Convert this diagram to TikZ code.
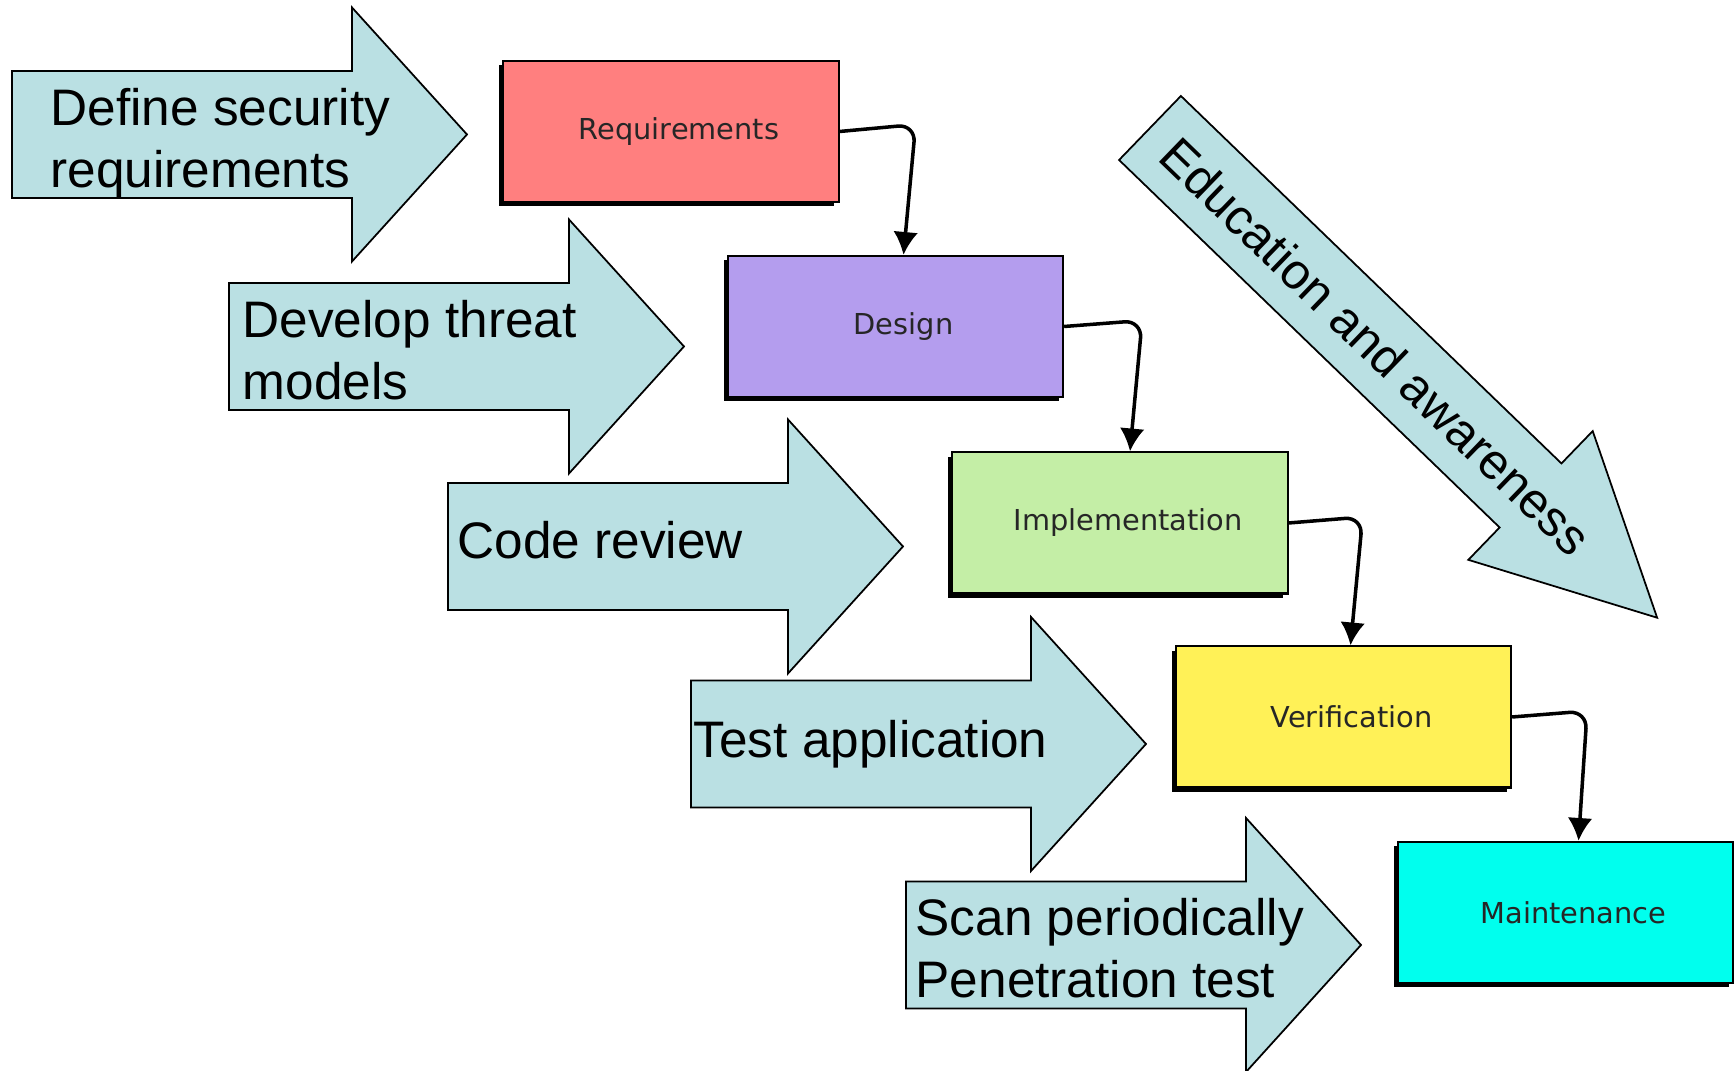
\documentclass[tikz,border=0pt]{standalone}
\usepackage{fontspec}
\setmainfont{Liberation Sans}
\newfontfamily\boxfont{DejaVu Sans}
\usetikzlibrary{arrows.meta,shadows}

\definecolor{arrowblue}{RGB}{186,224,227}
\definecolor{reqred}{RGB}{255,127,127}
\definecolor{dsnpurple}{RGB}{180,157,238}
\definecolor{implgreen}{RGB}{196,238,166}
\definecolor{verifyellow}{RGB}{255,241,87}
\definecolor{maintcyan}{RGB}{0,255,238}

\tikzset{
    phase/.style={draw=black, line width=0.6pt, minimum width=3.35cm, minimum height=1.41cm,
                  inner sep=0pt, font=\boxfont\fontsize{8.2}{10}\selectfont, text=black!85,
                  execute at begin node={\hspace*{0.16cm}},
                  drop shadow={shadow xshift=-1.2pt, shadow yshift=-1.2pt, fill=black, opacity=1}},
    bigarrow/.style={draw=black, line width=0.5pt, fill=arrowblue},
    arrowtext/.style={inner sep=0pt, align=left, font=\fontsize{14.6}{17.9}\selectfont},
    flow/.style={line width=1pt, rounded corners=5pt, -{Latex[length=6.5pt,width=7pt]}}
}

\begin{document}
\begin{tikzpicture}[x=0.01cm, y=-0.01cm]
                \useasboundingbox (0,0) rectangle (1735,1071);
                \fill[white] (0,0) rectangle (1735,1071);

                % activities
                \foreach \lx/\cy in {12/134.5, 229/346.5, 448/546.5, 691/744, 906/945}
                    \draw[bigarrow] (\lx,\cy-63.5) -- ++(340,0) -- ++(0,-63.5) -- ++(115,127)
                                    -- ++(-115,127) -- ++(0,-63.5) -- ++(-340,0) -- cycle;
                \node[arrowtext, anchor=base west] (defsec) at (50,188) {Define security\\requirements};
                \node[arrowtext, anchor=base west] (threat) at (242,400) {Develop threat\\models};
                \node[arrowtext, anchor=base west] (review) at (457,559) {Code review};
                \node[arrowtext, anchor=base west] (testapp) at (693,758) {Test application};
                \node[arrowtext, anchor=base west] (scan) at (915,998) {Scan periodically\\Penetration test};

                \begin{scope}[shift={(1150,128)}, rotate=-44]
                    \draw[bigarrow] (0,-44.5) -- (529,-44.5) -- (529,-89.5) -- (705,0)
                                    -- (529,89.5) -- (529,44.5) -- (0,44.5) -- cycle;
                    \node[arrowtext, font=\fontsize{14.2}{17}\selectfont, rotate=-44] (edu) at (314,0) {Education and awareness};
                \end{scope}

                % phases
                \node[phase, fill=reqred] (req) at (671,131.5) {Requirements};
                \node[phase, fill=dsnpurple] (dsn) at (895.5,326.5) {Design};
                \node[phase, fill=implgreen] (impl) at (1120,523) {Implementation};
                \node[phase, fill=verifyellow] (verif) at (1343.5,717) {Verification};
                \node[phase, fill=maintcyan] (maint) at (1565.5,912.5) {Maintenance};

                \draw[flow] (req.east) -- ++(76,-7) -- ([xshift=0.08cm]dsn.north);
                \draw[flow] (dsn.east) -- ++(78,-6) -- ([xshift=0.1cm]impl.north);
                \draw[flow] (impl.east) -- ++(74,-6) -- ([xshift=0.07cm]verif.north);
                \draw[flow] (verif.east) -- ++(75,-6) -- ([xshift=0.13cm]maint.north);
            \end{tikzpicture}
\end{document}
